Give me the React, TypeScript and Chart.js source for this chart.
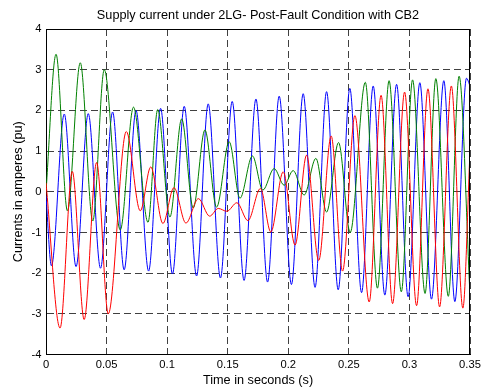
import React, { useEffect, useRef } from "react";
import { Chart, registerables } from "chart.js";

Chart.register(...registerables);

const TITLE = "Supply current under 2LG- Post-Fault Condition with CB2";
const X_LABEL = "Time in seconds (s)";
const Y_LABEL = "Currents in amperes (pu)";

const X_TICKS = [0, 0.05, 0.1, 0.15, 0.2, 0.25, 0.3, 0.35];
const X_TICK_LABELS = ["0", "0.05", "0.1", "0.15", "0.2", "0.25", "0.3", "0.35"];
const Y_TICKS = [-4, -3, -2, -1, 0, 1, 2, 3, 4];
const Y_TICK_LABELS = ["-4", "-3", "-2", "-1", "0", "1", "2", "3", "4"];

// Phase currents (pu): time (s) and value at extremes
const blueT = [0, 0.0045, 0.0151, 0.0248, 0.0349, 0.045, 0.055, 0.0645, 0.0743, 0.0847, 0.0946, 0.1044, 0.1141, 0.1243, 0.1339, 0.144, 0.1537, 0.1635, 0.1733, 0.1829, 0.1925, 0.2026, 0.2123, 0.2221, 0.2316, 0.2412, 0.2508, 0.2605, 0.2701, 0.2797, 0.2894, 0.2989, 0.3086, 0.3182, 0.3284, 0.3375, 0.3471, 0.35];
const blueI = [-0.1, -1.82, 1.91, -1.84, 1.92, -1.88, 1.96, -1.92, 2.0, -1.95, 2.05, -2.02, 2.1, -2.07, 2.16, -2.12, 2.22, -2.18, 2.28, -2.22, 2.35, -2.28, 2.41, -2.35, 2.46, -2.41, 2.54, -2.48, 2.6, -2.54, 2.64, -2.58, 2.68, -2.64, 2.73, -2.7, 2.79, 2.6];

const greenT = [0, 0.0083, 0.0177, 0.0283, 0.0386, 0.0481, 0.0613, 0.0722, 0.0842, 0.0922, 0.1023, 0.112, 0.1215, 0.1312, 0.1408, 0.1512, 0.1601, 0.1704, 0.179, 0.1883, 0.1966, 0.204, 0.2131, 0.2228, 0.2316, 0.2415, 0.2511, 0.2636, 0.2736, 0.2832, 0.2933, 0.3026, 0.3129, 0.3218, 0.3321, 0.341, 0.35];
const greenI = [0.0, 3.38, -0.47, 3.17, -0.72, 3.0, -0.94, 2.08, -0.75, 2.02, -0.62, 1.79, -0.4, 1.52, -0.38, 1.23, -0.16, 0.88, 0.04, 0.57, 0.16, 0.52, -0.08, 0.82, -0.5, 1.21, -1.0, 2.69, -2.37, 2.73, -2.46, 2.75, -2.5, 2.78, -2.57, 2.84, -2.55];

const redT = [0, 0.0116, 0.0217, 0.0315, 0.0418, 0.0514, 0.0663, 0.0778, 0.0865, 0.0965, 0.1056, 0.1155, 0.1258, 0.1351, 0.1422, 0.1493, 0.1576, 0.1667, 0.177, 0.1856, 0.1958, 0.2056, 0.2151, 0.2251, 0.2354, 0.2448, 0.255, 0.2668, 0.2766, 0.2861, 0.296, 0.3059, 0.3153, 0.3249, 0.3346, 0.3441, 0.35];
const redI = [0.22, -3.35, 0.5, -3.14, 0.72, -3.0, 1.48, -0.47, 0.61, -0.78, 0.1, -0.77, -0.17, -0.6, -0.41, -0.48, -0.27, -0.71, 0.08, -0.99, 0.49, -1.31, 0.9, -1.69, 1.37, -1.95, 1.87, -2.71, 2.37, -2.75, 2.45, -2.8, 2.53, -2.83, 2.6, -2.86, 1.0];

const FONT = "'Liberation Sans', Arial, Helvetica, sans-serif";

const toPoints = (t: number[], v: number[]) => t.map((x, i) => ({ x, y: v[i] }));

const framePlugin = {
  id: "matlabFrame",
  afterDraw(chart: any) {
    const { ctx, chartArea } = chart;
    const { left, right, top, bottom } = chartArea;
    ctx.save();
    ctx.strokeStyle = "#000";
    ctx.lineWidth = 1;
    const t = Math.round(top) + 0.5;
    const r = Math.round(right) - 0.5;
    ctx.beginPath();
    ctx.moveTo(Math.round(left), t);
    ctx.lineTo(r + 0.5, t);
    ctx.moveTo(r, Math.round(top));
    ctx.lineTo(r, Math.round(bottom));
    ctx.stroke();
    ctx.fillStyle = "#000";
    ctx.font = `12.7px ${FONT}`;
    ctx.textAlign = "center";
    ctx.textBaseline = "middle";
    ctx.fillText(TITLE, (left + right) / 2, 15);
    ctx.restore();
  },
};

export default function App() {
  const ref = useRef<HTMLCanvasElement | null>(null);

  useEffect(() => {
    if (!ref.current) return;
    const gridColor = "#404040";
    const chart = new Chart(ref.current, {
      type: "line",
      data: {
        datasets: [
          {
            label: "Ic",
            data: toPoints(redT, redI),
            borderColor: "#ff0000",
            backgroundColor: "#ff0000",
          },
          {
            label: "Ib",
            data: toPoints(greenT, greenI),
            borderColor: "#008000",
            backgroundColor: "#008000",
          },
          {
            label: "Ia",
            data: toPoints(blueT, blueI),
            borderColor: "#0000ff",
            backgroundColor: "#0000ff",
          },
        ],
      },
      options: {
        animation: false,
        responsive: true,
        maintainAspectRatio: false,
        layout: { padding: { top: 29, right: 17, left: 0, bottom: 0 } },
        plugins: {
          legend: { display: false },
          title: { display: false },
          tooltip: { enabled: false },
        },
        elements: {
          point: { radius: 0 },
          line: { borderWidth: 1, cubicInterpolationMode: "monotone", fill: false },
        },
        scales: {
          x: {
            type: "linear",
            min: 0,
            max: 0.35,
            afterBuildTicks: (s: any) => {
              s.ticks = X_TICKS.map((value) => ({ value }));
            },
            afterFit: (s: any) => {
              s.height = 36.5;
            },
            ticks: {
              callback: (_v: any, i: number) => X_TICK_LABELS[i],
              font: { size: 11.2, family: FONT },
              color: "#000",
              padding: 4,
              maxRotation: 0,
              autoSkip: false,
            },
            grid: { color: gridColor, lineWidth: 1, drawTicks: false },
            border: { display: true, color: "#000", width: 1, dash: [7, 4] },
            title: {
              display: true,
              text: X_LABEL,
              font: { size: 12.7, family: FONT },
              color: "#000",
              padding: { top: 0, bottom: 2.4 },
            },
          },
          y: {
            type: "linear",
            min: -4,
            max: 4,
            afterBuildTicks: (s: any) => {
              s.ticks = Y_TICKS.map((value) => ({ value }));
            },
            afterFit: (s: any) => {
              s.width = 46;
            },
            ticks: {
              callback: (_v: any, i: number) => Y_TICK_LABELS[i],
              font: { size: 11.2, family: FONT },
              color: "#000",
              padding: 4.5,
              autoSkip: false,
            },
            grid: { color: gridColor, lineWidth: 1, drawTicks: false },
            border: { display: true, color: "#000", width: 1, dash: [7, 4] },
            title: {
              display: true,
              text: Y_LABEL,
              font: { size: 12.7, family: FONT },
              color: "#000",
              padding: { top: 10.4, bottom: 0 },
            },
          },
        },
      },
      plugins: [framePlugin],
    } as any);
    return () => chart.destroy();
  }, []);

  return (
    <div
      style={{
        position: "fixed",
        left: 0,
        top: 0,
        width: 487,
        height: 391,
        background: "#fff",
      }}
    >
      <canvas ref={ref} />
    </div>
  );
}
